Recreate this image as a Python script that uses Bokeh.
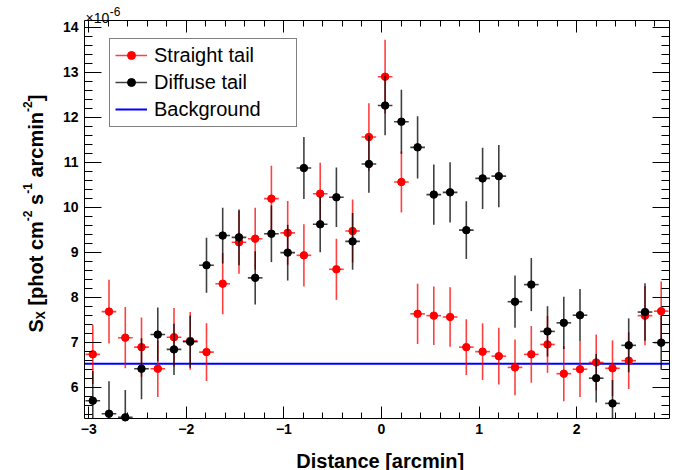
import math
from bokeh.plotting import figure
from bokeh.models import (Range1d, LinearAxis, SingleIntervalTicker, Label,
                          Legend, LegendItem, ColumnDataSource, CustomJSTickFormatter)
from bokeh.embed import file_html
from bokeh.resources import INLINE

# ---------------- data ----------------
distance = [-2.958, -2.792, -2.625, -2.459, -2.292, -2.126, -1.960, -1.793, -1.627,
            -1.460, -1.294, -1.128, -0.961, -0.795, -0.628, -0.462, -0.296, -0.129,
            0.037, 0.204, 0.370, 0.536, 0.703, 0.869, 1.036, 1.202, 1.368, 1.535,
            1.701, 1.868, 2.034, 2.200, 2.367, 2.533, 2.700, 2.866]
straight = [6.73, 7.68, 7.10, 6.89, 6.41, 7.11, 7.03, 6.78, 8.30,
            9.22, 9.30, 10.19, 9.43, 8.93, 10.30, 8.62, 9.47, 11.56,
            12.90, 10.56, 7.63, 7.59, 7.56, 6.89, 6.79, 6.69, 6.44, 6.73,
            6.95, 6.30, 6.40, 6.55, 6.42, 6.59, 7.59, 7.69]
straight_err = [0.66, 0.71, 0.68, 0.66, 0.63, 0.65, 0.64, 0.64, 0.68,
                0.70, 0.69, 0.73, 0.71, 0.69, 0.69, 0.68, 0.70, 0.75,
                0.82, 0.68, 0.67, 0.65, 0.66, 0.62, 0.63, 0.63, 0.62, 0.63,
                0.63, 0.61, 0.62, 0.62, 0.62, 0.63, 0.66, 0.66]
diffuse = [5.70, 5.41, 5.33, 6.41, 7.17, 6.84, 7.01, 8.71, 9.37,
           9.33, 8.43, 9.41, 8.99, 10.87, 9.62, 10.22, 9.24, 10.96,
           12.26, 11.90, 11.33, 10.28, 10.33, 9.49, 10.64, 10.69, 7.90, 8.28,
           7.24, 7.43, 7.60, 6.20, 5.64, 6.93, 7.67, 6.99]
diffuse_err = [0.66, 0.72, 0.61, 0.68, 0.60, 0.57, 0.58, 0.61, 0.62,
               0.62, 0.59, 0.63, 0.62, 0.69, 0.62, 0.66, 0.63, 0.64,
               0.66, 0.71, 0.69, 0.67, 0.67, 0.64, 0.68, 0.69, 0.58, 0.59,
               0.56, 0.58, 0.58, 0.54, 0.52, 0.60, 0.64, 0.60]
bin_half = 0.075
background = 6.52
series_names = ["Straight tail", "Diffuse tail", "Background"]
x_tick_labels = {-3: "\u22123", -2: "\u22122", -1: "\u22121", 0: "0", 1: "1", 2: "2"}

FONT = "Liberation Sans"

# ---------------- geometry (page pixels) ----------------
W, H = 689, 470
BOX_L, BOX_R, BOX_T, BOX_B = 84.0, 669.0, 20.0, 417.7
X0, X1 = -3.043, 2.951          # data limits of the plot box
Y0, Y1 = 5.311, 14.149
kx = (BOX_R - BOX_L) / (X1 - X0)
ky = (BOX_B - BOX_T) / (Y1 - Y0)

p = figure(width=W, height=H, output_backend="svg", toolbar_location=None,
           x_range=Range1d(X0 - BOX_L / kx, X1 + (W - BOX_R) / kx),
           y_range=Range1d(Y0 - (H - BOX_B) / ky, Y1 + BOX_T / ky),
           x_axis_location=None, y_axis_location=None,
           min_border=0, min_border_left=0, min_border_right=0,
           min_border_top=0, min_border_bottom=0)
p.outline_line_color = None
p.background_fill_color = "white"
p.border_fill_color = "white"
p.grid.visible = False

xt = SingleIntervalTicker(interval=1, num_minor_ticks=5)
yt = SingleIntervalTicker(interval=1, num_minor_ticks=5)
blank = CustomJSTickFormatter(code="return '';")


def axis(ticker, bounds, loc, major_in, minor_in, show_labels, standoff=4, overrides=None):
    ax = LinearAxis(ticker=ticker, bounds=bounds, fixed_location=loc,
                    major_tick_in=major_in, major_tick_out=0,
                    minor_tick_in=minor_in, minor_tick_out=0,
                    axis_line_color="black", axis_line_width=1,
                    major_tick_line_color="black", minor_tick_line_color="black",
                    major_label_text_font=FONT, major_label_text_font_style="bold",
                    major_label_text_color="black", major_label_text_font_size="14px",
                    major_label_standoff=standoff)
    if not show_labels:
        ax.formatter = blank
        ax.major_label_standoff = 0
    if overrides:
        ax.major_label_overrides = overrides
    return ax


p.add_layout(axis(xt, (X0, X1), Y0, 12, 6, True, 6, x_tick_labels), "below")
p.add_layout(axis(xt, (X0, X1), Y1, 12, 6, False), "above")
p.add_layout(axis(yt, (Y0, Y1), X0, 17, 8, True, 6), "left")
p.add_layout(axis(yt, (Y0, Y1), X1, 17, 8, False), "right")

# background level across the plot box
bg = p.segment(x0=[X0], y0=[background], x1=[X1], y1=[background],
               line_color="#0000ff", line_width=2)


def draw_series(xs, ys, errs, color):
    src = ColumnDataSource(dict(
        x=xs, y=ys,
        lo=[max(v - e, Y0) for v, e in zip(ys, errs)],
        hi=[min(v + e, Y1) for v, e in zip(ys, errs)],
        xl=[v - bin_half for v in xs],
        xr=[v + bin_half for v in xs]))
    p.segment(x0="x", y0="lo", x1="x", y1="hi", source=src,
              line_color=color, line_width=1.6, line_alpha=0.75)
    h = p.segment(x0="xl", y0="y", x1="xr", y1="y", source=src,
                  line_color=color, line_width=1.6, line_alpha=0.75)
    s = p.scatter(x="x", y="y", source=src, size=7.5, fill_color=color,
                  line_color=color, marker="circle")
    return h, s


red_h, red_s = draw_series(distance, straight, straight_err, "#ff0000")
blk_h, blk_s = draw_series(distance, diffuse, diffuse_err, "#000000")

legend = Legend(items=[LegendItem(label=series_names[0], renderers=[red_h, red_s]),
                       LegendItem(label=series_names[1], renderers=[blk_h, blk_s]),
                       LegendItem(label=series_names[2], renderers=[bg])],
                location=(109, H - 126.7), orientation="vertical",
                glyph_width=32, glyph_height=20, label_height=20,
                label_width=137, label_standoff=7, spacing=4, padding=5,
                margin=0,
                label_text_font=FONT, label_text_font_size="20px",
                label_text_color="black",
                border_line_color="black", border_line_width=1,
                background_fill_color="white", background_fill_alpha=1.0)
p.add_layout(legend, "center")

# ---------------- text labels (screen units: from canvas bottom-left) ----------------
BOLD_W = {"S": 667, "X": 667, " ": 278, "[": 333, "]": 333, "p": 611, "h": 611,
          "o": 611, "t": 333, "c": 556, "m": 889, "s": 556, "a": 556, "r": 389,
          "i": 278, "n": 611, "-": 333, "1": 556, "2": 556}
REG_W = {"\u00d7": 584, "1": 556, "0": 556}


def width(txt, size, table):
    return sum(table.get(ch, 556) for ch in txt) * size / 1000.0


def label(px, py, text, size, bold=True, angle=0, align="left"):
    p.add_layout(Label(x=px, y=H - py, x_units="screen", y_units="screen",
                       text=text, angle=angle, angle_units="deg",
                       text_align=align, text_baseline="alphabetic",
                       text_font=FONT, text_font_style="bold" if bold else "normal",
                       text_font_size=f"{size}px", text_color="black"))


# y axis title, rotated, from pieces (text, size, baseline shift "up")
pieces = [("S", 20, 0), ("X", 12, -5), (" [phot cm", 20, 0), ("-2", 12, 8),
          (" s", 20, 0), ("-1", 12, 8), (" arcmin", 20, 0), ("-2", 12, 8),
          ("]", 20, 0)]
pos = 332.0
for txt, size, shift in pieces:
    lead = len(txt) - len(txt.lstrip(" "))
    start = pos - width(" " * lead, size, BOLD_W)
    label(35 - shift, start, txt.lstrip(" "), size, angle=90)
    pos -= width(txt, size, BOLD_W)

# x axis title
label(379.7, 460, "Distance [arcmin]", 20, align="center")

# scale factor x10^-6
label(85, 17, "\u00d710", 14, bold=False)
label(85 + width("\u00d710", 14, REG_W) + 0.5, 10.5, f"{-6:d}", 12, bold=False)

open("out.html", "w").write(file_html(p, INLINE))
